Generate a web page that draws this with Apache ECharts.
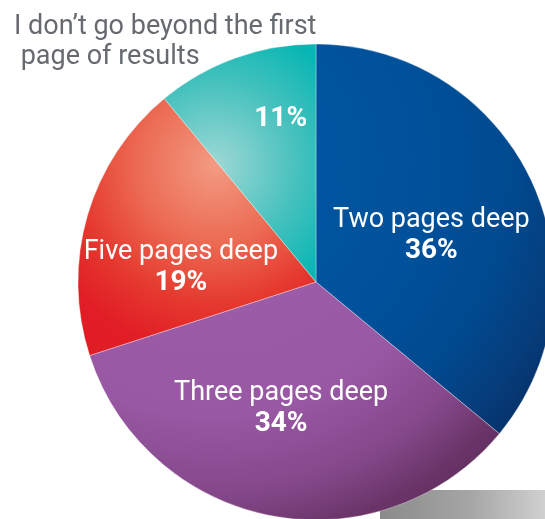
<!DOCTYPE html>
<html>
<head>
<meta charset="utf-8">
<script src="https://cdn.jsdelivr.net/npm/echarts@6/dist/echarts.min.js"></script>
<style>
  html, body { margin: 0; padding: 0; background: #ffffff; }
  #chart { width: 545px; height: 519px; }
</style>
</head>
<body>
<div id="chart"></div>
<script>
// How deep searchers go into result pages (share of respondents, %)
const firstPageLines = ['I don\u2019t go beyond the first', 'page of results'];
const categories = ['Two pages deep', 'Three pages deep', 'Five pages deep', firstPageLines.join(' ')];
const shares = [36, 34, 19, 11];

const FONT = 'Roboto, "Liberation Sans", sans-serif';

// Shading: every slice lit from a common highlight point up-left of centre
function shade(stops) {
  return {
    type: 'radial', x: 215, y: 165, r: 420, global: true,
    colorStops: stops.map(([offset, color]) => ({ offset, color }))
  };
}
const sliceFills = [
  shade([[0, '#0057a3'], [0.5, '#00519b'], [0.7, '#004a90'], [0.85, '#063d7b'], [1, '#062b60']]),
  shade([[0, '#9f5fab'], [0.6, '#9858a3'], [0.78, '#84488a'], [0.9, '#6a3468'], [1, '#5a2a58']]),
  shade([[0, '#f29b82'], [0.18, '#ec6c54'], [0.33, '#e5392f'], [0.45, '#e11d25'], [1, '#d81a22']]),
  shade([[0, '#9ed8d5'], [0.2, '#45c1bd'], [0.35, '#06b6b3'], [1, '#00b0ad']])
];
// Fine placement of the in-slice labels
const labelShift = [[5, 5], [-12, 6], [-18, 19], [6, -48]];

const chart = echarts.init(document.getElementById('chart'), null, { renderer: 'canvas' });
chart.setOption({
  animation: false,
  title: {
    text: firstPageLines[0] + '\n ' + firstPageLines[1],
    left: 9, top: 7,
    textStyle: { fontFamily: FONT, fontWeight: 'normal', fontSize: 27, lineHeight: 30, color: '#676b70' }
  },
  graphic: [{
    type: 'rect', z: 0,
    shape: { x: 380, y: 490, width: 165, height: 29 },
    style: {
      fill: {
        type: 'linear', x: 0, y: 0, x2: 1, y2: 0,
        colorStops: [{ offset: 0, color: '#8a8a8a' }, { offset: 0.55, color: '#a6a6a6' }, { offset: 1, color: '#d0d0d0' }]
      }
    }
  }],
  series: [{
    type: 'pie',
    z: 5,
    center: [316, 282],
    radius: 238,
    startAngle: 90,
    clockwise: true,
    emphasis: { disabled: true },
    itemStyle: { borderColor: 'rgba(255,255,255,0.55)', borderWidth: 0.6 },
    label: {
      position: 'inside',
      color: '#ffffff',
      align: 'center',
      formatter: (p) => p.dataIndex === 3
        ? '{p|' + p.value + '%}'
        : '{n|' + p.name + '}\n{p|' + p.value + '%}',
      rich: {
        n: { fontFamily: FONT, fontSize: 27, lineHeight: 32, color: '#ffffff', align: 'center' },
        p: { fontFamily: FONT, fontSize: 28, fontWeight: 'bold', lineHeight: 29, color: '#ffffff', align: 'center' }
      }
    },
    labelLine: { show: false },
    labelLayout: (params) => ({ dx: labelShift[params.dataIndex][0], dy: labelShift[params.dataIndex][1] }),
    data: categories.map((name, i) => ({ name, value: shares[i], itemStyle: { color: sliceFills[i] } }))
  }]
});
</script>
</body>
</html>
